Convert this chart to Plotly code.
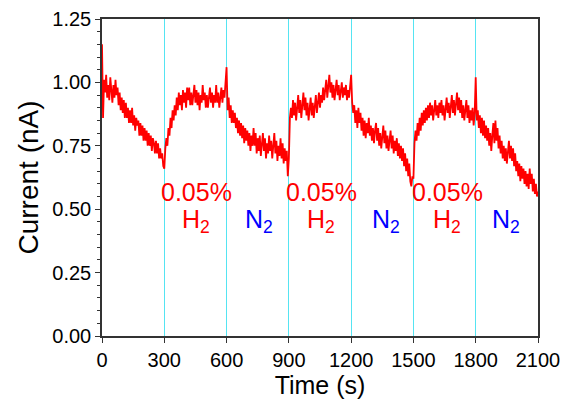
import plotly.graph_objects as go

# time axis sampled every 5 s
time_s = list(range(0, 2101, 5))

cur_0_295 = [1.15, 0.86, 1.01, 0.96, 1.03, 0.94, 0.99, 0.93, 1.02, 0.96, 0.92, 0.99, 0.94, 1.01, 0.95, 0.98, 0.91, 0.96, 0.89, 0.94,
             0.88, 0.93, 0.86, 0.92, 0.86, 0.90, 0.84, 0.89, 0.84, 0.90, 0.83, 0.87, 0.81, 0.86, 0.83, 0.85, 0.79, 0.84, 0.79, 0.83,
             0.77, 0.82, 0.77, 0.81, 0.75, 0.80, 0.75, 0.79, 0.73, 0.78, 0.76, 0.72, 0.77, 0.72, 0.76, 0.70, 0.74, 0.70, 0.72, 0.67]
cur_300_595 = [0.66, 0.74, 0.78, 0.75, 0.82, 0.79, 0.86, 0.82, 0.89, 0.85, 0.91, 0.87, 0.94, 0.89, 0.96, 0.91, 0.95, 0.89, 0.97, 0.92,
               0.96, 0.90, 0.98, 0.93, 0.98, 0.91, 0.96, 0.91, 0.95, 0.99, 0.92, 0.97, 0.91, 0.96, 0.89, 0.95, 0.92, 0.99, 0.93, 0.96,
               0.90, 0.95, 0.90, 0.94, 0.98, 0.92, 0.96, 0.90, 0.95, 0.92, 0.99, 0.92, 0.96, 0.90, 0.95, 0.98, 0.92, 0.97, 0.94, 0.99]
cur_600_895 = [1.06, 0.89, 0.94, 0.86, 0.91, 0.84, 0.89, 0.84, 0.88, 0.82, 0.86, 0.80, 0.85, 0.79, 0.84, 0.78, 0.83, 0.76, 0.82, 0.77,
               0.81, 0.75, 0.80, 0.73, 0.79, 0.75, 0.82, 0.75, 0.80, 0.72, 0.78, 0.73, 0.79, 0.71, 0.77, 0.80, 0.73, 0.78, 0.70, 0.76,
               0.72, 0.79, 0.73, 0.77, 0.70, 0.75, 0.80, 0.72, 0.77, 0.69, 0.75, 0.71, 0.78, 0.70, 0.76, 0.68, 0.74, 0.69, 0.73, 0.63]
cur_900_1195 = [0.70, 0.86, 0.90, 0.86, 0.93, 0.87, 0.92, 0.85, 0.90, 0.95, 0.88, 0.93, 0.86, 0.91, 0.96, 0.89, 0.94, 0.87, 0.92, 0.85,
                0.90, 0.94, 0.87, 0.92, 0.86, 0.91, 0.95, 0.88, 0.93, 0.96, 0.90, 0.95, 0.92, 0.98, 0.93, 0.97, 1.01, 0.94, 0.99, 1.03,
                0.96, 1.00, 0.94, 0.99, 0.93, 0.98, 1.01, 0.95, 0.99, 0.93, 0.97, 1.00, 0.94, 0.98, 0.95, 0.99, 0.93, 0.97, 0.94, 0.98]
cur_1200_1495 = [1.03, 0.92, 0.88, 0.91, 0.84, 0.89, 0.82, 0.90, 0.84, 0.88, 0.81, 0.86, 0.79, 0.85, 0.78, 0.84, 0.80, 0.86, 0.79, 0.83,
                 0.77, 0.82, 0.76, 0.81, 0.84, 0.77, 0.82, 0.75, 0.80, 0.74, 0.79, 0.83, 0.76, 0.81, 0.74, 0.79, 0.73, 0.78, 0.81, 0.74,
                 0.79, 0.72, 0.77, 0.73, 0.78, 0.71, 0.76, 0.70, 0.75, 0.69, 0.74, 0.67, 0.72, 0.65, 0.70, 0.63, 0.68, 0.61, 0.59, 0.63]
cur_1500_1795 = [0.62, 0.76, 0.81, 0.77, 0.84, 0.79, 0.86, 0.81, 0.88, 0.83, 0.89, 0.84, 0.90, 0.85, 0.91, 0.86, 0.92, 0.87, 0.91, 0.85,
                 0.90, 0.93, 0.87, 0.91, 0.86, 0.92, 0.88, 0.93, 0.87, 0.91, 0.85, 0.90, 0.94, 0.88, 0.92, 0.86, 0.91, 0.95, 0.88, 0.93,
                 0.87, 0.92, 0.96, 0.89, 0.94, 0.88, 0.93, 0.86, 0.91, 0.85, 0.90, 0.93, 0.86, 0.91, 0.84, 0.89, 0.85, 0.90, 0.83, 0.88]
cur_1800_2100 = [1.02, 0.85, 0.89, 0.82, 0.87, 0.80, 0.86, 0.79, 0.85, 0.78, 0.83, 0.77, 0.82, 0.75, 0.80, 0.73, 0.79, 0.84, 0.76, 0.85,
                 0.77, 0.82, 0.74, 0.79, 0.72, 0.77, 0.70, 0.75, 0.69, 0.74, 0.68, 0.73, 0.77, 0.70, 0.75, 0.69, 0.74, 0.67, 0.72, 0.65,
                 0.69, 0.63, 0.68, 0.61, 0.67, 0.62, 0.66, 0.60, 0.65, 0.59, 0.64, 0.58, 0.66, 0.60, 0.64, 0.57, 0.62, 0.56, 0.60, 0.55, 0.57]

current_nA = cur_0_295 + cur_300_595 + cur_600_895 + cur_900_1195 + cur_1200_1495 + cur_1500_1795 + cur_1800_2100

x_ticks = [0, 300, 600, 900, 1200, 1500, 1800, 2100]
y_ticks = [0.00, 0.25, 0.50, 0.75, 1.00, 1.25]

h2_label_t = [455, 1055, 1662]
n2_label_t = [756, 1368, 1946]
pct_y = 0.568
gas_y = 0.453

FONT = "Arial, Liberation Sans, sans-serif"

fig = go.Figure()
fig.add_trace(go.Scatter(x=time_s, y=current_nA, mode="lines",
                         line=dict(color="#ff0000", width=1.8), showlegend=False))

ann = []
for t in h2_label_t:
    ann.append(dict(x=t, y=pct_y, text="0.05%", font=dict(color="#ff0000", size=25, family=FONT)))
    ann.append(dict(x=t, y=gas_y, text="H<sub>2</sub>", font=dict(color="#ff0000", size=25, family=FONT)))
for t in n2_label_t:
    ann.append(dict(x=t, y=gas_y, text="N<sub>2</sub>", font=dict(color="#0000ff", size=25, family=FONT)))
for a in ann:
    a.update(xref="x", yref="y", showarrow=False, xanchor="center", yanchor="middle")

fig.update_layout(
    width=561, height=399,
    margin=dict(l=102, r=23, t=19, b=63, autoexpand=False),
    paper_bgcolor="white", plot_bgcolor="white",
    font=dict(family=FONT, color="black"),
    annotations=ann,
    xaxis=dict(range=[0, 2100], tickvals=x_ticks, ticktext=[str(v) for v in x_ticks],
               ticks="outside", ticklen=5, tickwidth=1.2, tickcolor="#333",
               showline=True, linecolor="#333", linewidth=1.5, mirror=True,
               showgrid=True, gridcolor="#55e4f2", gridwidth=1,
               zeroline=False, tickfont=dict(size=20),
               title=dict(text="Time (s)", font=dict(size=25), standoff=6)),
    yaxis=dict(range=[0, 1.25], tickvals=y_ticks, ticktext=["%.2f" % v for v in y_ticks],
               ticks="outside", ticklen=5, tickwidth=1.2, tickcolor="#333",
               minor=dict(dtick=0.05, ticks="outside", ticklen=3, tickcolor="#333", showgrid=False),
               showline=True, linecolor="#333", linewidth=1.5, mirror=True,
               showgrid=False, zeroline=False, tickfont=dict(size=20),
               title=dict(text="Current (nA)", font=dict(size=28), standoff=6)),
)

fig.write_html("out.html", config={"displayModeBar": False},
               post_script="document.body.style.margin='0px';document.body.style.overflow='hidden';")
